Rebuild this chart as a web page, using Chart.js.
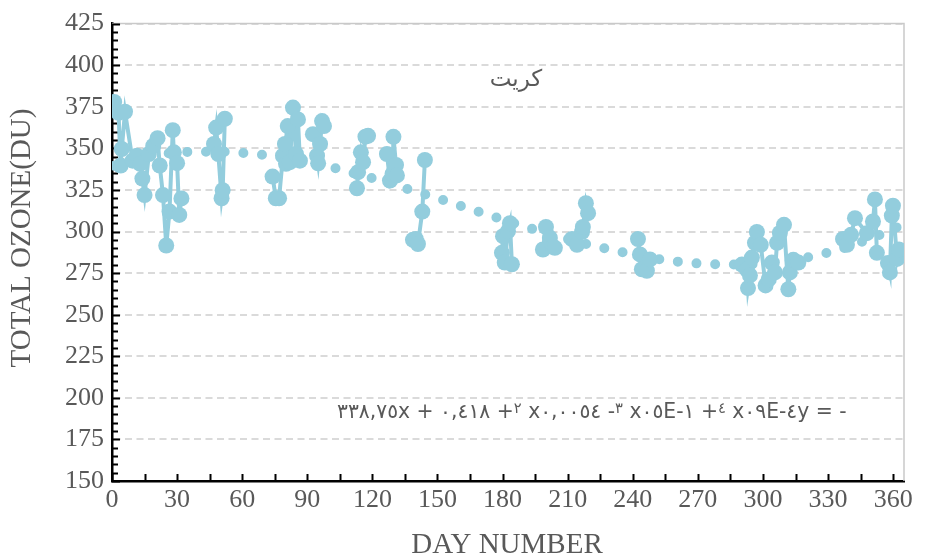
<!DOCTYPE html>
<html>
<head>
<meta charset="utf-8">
<script src="https://cdn.jsdelivr.net/npm/chart.js@4.4.0/dist/chart.umd.min.js"></script>
<style>
html, body { margin: 0; padding: 0; background: #fff; }
#wrap { width: 926px; height: 560px; }
</style>
</head>
<body>
<div id="wrap"><canvas id="ozoneChart" width="926" height="560"></canvas></div>
<script>
// daily total ozone, null = no observation (breaks the line)
var dayNumbers = [
    1, 3, 4, 4.5, 6, 9.5, 11.5, 13, 14, 15, 17, 19, 21, 22, 23.5, 25, 26.5, 28, 28.5, 30, 31, 32, 40,
    47, 48, 49, 50.5, 51, 52, 62,
    74, 75.5, 77, 78.8, 79.7, 80.2, 81, 82, 83.4, 84.8, 85.7, 86.6, 90,
    92.6, 94.5, 95, 95.9, 96.8, 97.7, 105,
    112.9, 113.4, 114.7, 115.7, 116.8, 118, 122,
    126.7, 128.1, 129.3, 129.7, 130.9, 131.3, 135,
    138.7, 140, 141, 143, 144.2, 160,
    179.7, 180.2, 181, 182.5, 183.4, 184.3, 190,
    198.6, 200, 201.8, 203.2, 204.1, 208,
    212, 214.3, 216.6, 217, 218.4, 219.4, 230,
    242.4, 243.3, 244.2, 246.5, 247.9, 270,
    290.3, 292.6, 293.1, 294, 294.9, 296.3, 297.2, 299, 301.2, 302.6, 304.1, 305.5, 306.5, 307.8, 309.7, 311.7, 312.4, 314, 316.3, 325,
    336.9, 338.7, 340.6, 342.4, 347.9, 350.7, 351.6, 352.5, 355,
    357.6, 358.5, 359.4, 359.9, 361.8, 362.7
];
var ozoneValues = [
    377.9, 371.4, 339.7, 349.6, 372, 342.6, 345.6, 340.7, 331.8, 321.9, 346.6, 351.5, 356.1, 339.7, 321.9, 291.6, 312, 360.9, 347.6, 341.1, 310, 319.9, null,
    352.6, 362.5, 346.6, 320, 324.8, 367.8, null,
    333, 320, 320, 345.6, 352.6, 340.7, 363.4, 341.7, 374.5, 346.6, 367.4, 342.6, null,
    358.5, 345.6, 341, 352.6, 366.4, 363.4, null,
    326, 335.7, 347.6, 341.7, 357, 357.5, null,
    346.6, 330.6, 334.7, 356.9, 340, 333.7, null,
    295, 295.5, 292.5, 312, 343, null,
    287.2, 297.2, 281.3, 300.2, 305, 280.3, null,
    289.2, 302.7, 296.1, 290.8, 290.2, null,
    295.5, 292, 299.7, 302.7, 317, 311, null,
    295.5, 286.2, 277.3, 276.4, 283.2, null,
    280.1, 277.1, 266, 273.6, 284.3, 293.2, 299.7, 292, 267.6, 271.2, 281.3, 275.4, 293.2, 299.1, 304, 265.3, 275.4, 283, 281.3, null,
    295.5, 292, 298, 308, 299, 306, 319.3, 287.2, null,
    281, 275.4, 309.6, 315.5, 283.5, 289.2
];

// polynomial trend
var trendDays = [1, 10, 20, 30, 40, 50, 60, 70, 80, 90, 100, 110, 120, 130, 140, 150, 160, 170, 180,
    190, 200, 210, 220, 230, 240, 250, 260, 270, 280, 290, 300, 310, 320, 330, 340, 350, 360, 363];
var trendValues = [339.5, 343.5, 346, 347.5, 348, 348, 347.3, 346, 344, 341.5, 339, 335.5, 332, 328, 324, 320, 315.7, 311.4, 307.2,
    303, 299.2, 295.5, 292, 289, 286.2, 283.8, 282, 280.8, 280.3, 280.2, 280.8, 282.2, 284.3, 287.3, 291.2, 296, 301.5, 303.4];

var xTickValues = [0, 30, 60, 90, 120, 150, 180, 210, 240, 270, 300, 330, 360];
var yTickValues = [150, 175, 200, 225, 250, 275, 300, 325, 350, 375, 400, 425];

var chartTitle = 'كريت';
var xAxisTitle = 'DAY NUMBER';
var yAxisTitle = 'TOTAL OZONE(DU)';
// trendline label, pieces in display order; true = superscript
var equationParts = [
    ['٣٣٨,٧٥x + ٠,٤١٨ +', false], ['٢', true],
    [' x٠,٠٠٥٤ -', false], ['٣', true],
    [' x٠٥E-١ +', false], ['٤', true],
    [' x٠٩E-٤y = -', false]
];

var blue = '#93CDDD';
var grey = '#595959';
var serif = '"Liberation Serif", "Times New Roman", serif';

var frame = {
    id: 'frame',
    beforeDraw: function (chart) {
        var c = chart.ctx;
        c.save();
        c.fillStyle = '#fff';
        c.fillRect(0, 0, chart.width, chart.height);
        c.restore();
    },
    beforeDatasetsDraw: function (chart) {
        var c = chart.ctx, a = chart.chartArea;
        var xs = chart.scales.x, ys = chart.scales.y;
        c.save();
        c.strokeStyle = '#C9C9C9';
        c.lineWidth = 1.5;
        c.beginPath();
        c.moveTo(a.left, a.top);
        c.lineTo(a.right, a.top);
        c.lineTo(a.right, a.bottom);
        c.stroke();
        c.strokeStyle = '#000';
        c.lineWidth = 2;
        c.beginPath();
        for (var v = 150; v <= 425; v += 5) {
            var y = Math.round(ys.getPixelForValue(v)) + 0.5;
            c.moveTo(a.left, y);
            c.lineTo(a.left + (v % 25 === 0 ? 8 : 6), y);
        }
        for (var d = 0; d <= 360; d += 15) {
            var x = Math.round(xs.getPixelForValue(d)) + 0.5;
            c.moveTo(x, a.bottom);
            c.lineTo(x, a.bottom - 7);
        }
        c.stroke();
        c.restore();
    },
    afterDraw: function (chart) {
        var c = chart.ctx;
        c.save();
        c.fillStyle = grey;
        c.textAlign = 'center';
        c.textBaseline = 'middle';
        c.font = '29px ' + serif;
        c.fillText(xAxisTitle, 507, 545);
        c.save();
        c.translate(22, 238);
        c.rotate(-Math.PI / 2);
        c.fillText(yAxisTitle, 0, 0);
        c.restore();

        c.font = '23px "DejaVu Sans"';
        c.fillText(chartTitle, 516, 80);

        // equation, fitted to the width it takes in the original
        var base = 14, sup = 0.72;
        c.textAlign = 'left';
        c.textBaseline = 'alphabetic';
        function widthAt(size) {
            var w = 0;
            equationParts.forEach(function (p) {
                c.font = (p[1] ? size * sup : size) + 'px "DejaVu Sans"';
                w += c.measureText('\u202D' + p[0] + '\u202C').width;
            });
            return w;
        }
        var size = base * 510 / widthAt(base);
        var x = 337;
        equationParts.forEach(function (p) {
            c.font = (p[1] ? size * sup : size) + 'px "DejaVu Sans"';
            var t = '\u202D' + p[0] + '\u202C';
            c.fillText(t, x, p[1] ? 413 : 418);
            x += c.measureText(t).width;
        });
        c.restore();
    }
};

var ctx = document.getElementById('ozoneChart').getContext('2d');
var ozoneChart = new Chart(ctx, {
    type: 'scatter',
    data: {
        datasets: [{
            label: 'Ozone',
            data: dayNumbers.map(function (d, i) { return { x: d, y: ozoneValues[i] }; }),
            showLine: true,
            spanGaps: false,
            borderColor: blue,
            backgroundColor: blue,
            borderWidth: 4,
            pointRadius: 8,
            pointBorderWidth: 0,
            pointHoverRadius: 8,
        },
        {
            label: 'Trend',
            data: trendDays.map(function (d, i) { return { x: d, y: trendValues[i] }; }),
            showLine: true,
            borderColor: blue,
            borderWidth: 10,
            borderDash: [0, 18.7],
            borderCapStyle: 'round',
            cubicInterpolationMode: 'monotone',
            pointRadius: 0,
        }],
    },
    options: {
        responsive: false,
        animation: false,
        devicePixelRatio: 1,
        layout: { padding: { top: 17, right: 22, left: 0, bottom: 0 } },
        plugins: {
            legend: { display: false },
            tooltip: { enabled: false },
        },
        scales: {
            x: {
                type: 'linear',
                min: 0,
                max: 365,
                afterBuildTicks: function (scale) {
                    scale.ticks = xTickValues.map(function (v) { return { value: v }; });
                },
                afterFit: function (scale) { scale.height = 79; },
                grid: { display: false, drawTicks: false },
                border: { display: true, color: '#000', width: 2.5 },
                ticks: { color: grey, padding: 4, maxRotation: 0, autoSkip: false, font: { family: serif, size: 26 } },
            },
            y: {
                min: 150,
                max: 425,
                afterBuildTicks: function (scale) {
                    scale.ticks = yTickValues.map(function (v) { return { value: v }; });
                },
                afterFit: function (scale) { scale.width = 112; },
                grid: { color: '#DADADA', lineWidth: 2, drawTicks: false },
                border: { display: true, color: '#000', width: 2.5, dash: [7, 4.5] },
                ticks: { color: grey, padding: 8, autoSkip: false, font: { family: serif, size: 26 } },
            },
        },
    },
    plugins: [frame],
});
</script>
</body>
</html>
